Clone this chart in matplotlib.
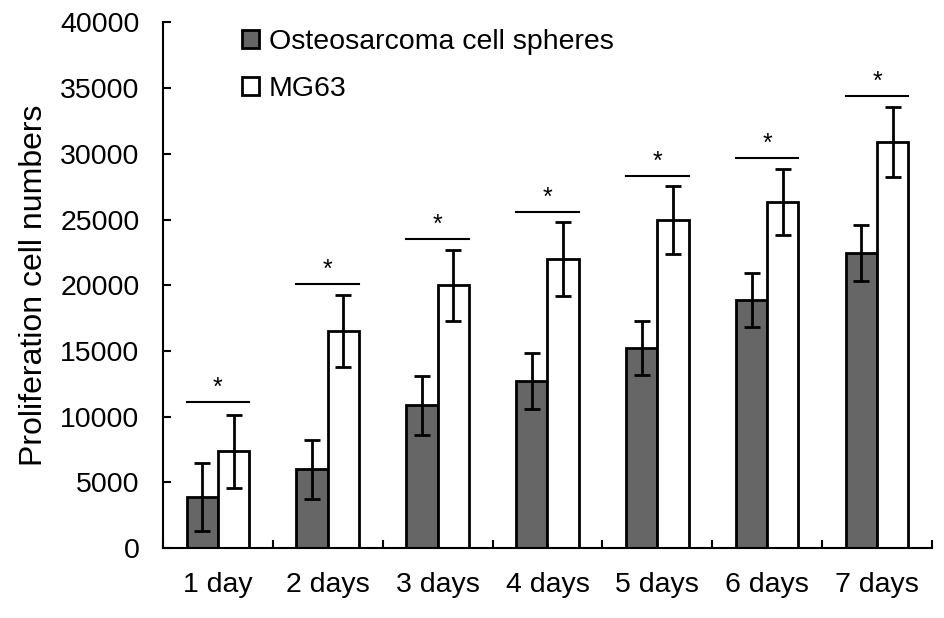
import numpy as np
from matplotlib import pyplot as plt

plt.rcParams['font.family'] = ['Liberation Sans', 'DejaVu Sans']

days = ['1 day', '2 days', '3 days', '4 days', '5 days', '6 days', '7 days']
spheres = [3900, 6000, 10850, 12700, 15200, 18850, 22450]
spheres_err = [2600, 2250, 2250, 2150, 2050, 2050, 2100]
mg63 = [7350, 16500, 20000, 22000, 24950, 26350, 30900]
mg63_err = [2750, 2750, 2700, 2800, 2600, 2500, 2650]
star_line = [11150, 20100, 23500, 25550, 28300, 29700, 34400]

x = np.arange(len(days))
w = 0.285

fig = plt.figure(figsize=(9.45, 6.18), dpi=100)
ax = fig.add_axes([0.1725, 0.1133, 0.8137, 0.8503])

err_kw = dict(elinewidth=2, capsize=6, capthick=2, ecolor='black')
ax.bar(x - w / 2, spheres, w, yerr=spheres_err, color='#666666', edgecolor='black',
       linewidth=2, error_kw=err_kw, label='Osteosarcoma cell spheres')
ax.bar(x + w / 2, mg63, w, yerr=mg63_err, color='white', edgecolor='black',
       linewidth=2, error_kw=err_kw, label='MG63')

for i, h in enumerate(star_line):
    ax.plot([i - w, i + w], [h, h], color='black', lw=1.5)
    ax.text(i, h + 150, '*', ha='center', va='bottom', fontsize=18)

ax.set_xlim(-0.5, len(days) - 0.5)
ax.set_ylim(0, 40000)
ax.set_yticks(np.arange(0, 40001, 5000))
ax.set_xticks(x)
ax.set_xticklabels(days)
ax.set_xticks(np.arange(-0.5, len(days)), minor=True)
ax.tick_params(axis='x', which='major', length=0, pad=17, labelsize=20.5)
ax.tick_params(axis='x', which='minor', direction='in', length=6, width=1.5)
ax.tick_params(axis='y', direction='in', length=6, width=1.5, labelsize=20.5, pad=17)
ax.spines['top'].set_visible(False)
ax.spines['right'].set_visible(False)
ax.spines['left'].set_linewidth(1.5)
ax.spines['bottom'].set_linewidth(1.5)
ax.set_ylabel('Proliferation cell numbers', fontsize=23, labelpad=8)

ax.legend(loc='upper left', bbox_to_anchor=(0.1026, 0.987), frameon=False, fontsize=20.5,
          borderpad=0, borderaxespad=0, handlelength=0.6, handleheight=0.6,
          handletextpad=0.35, labelspacing=0.72)

plt.savefig('out.png', dpi=100)
